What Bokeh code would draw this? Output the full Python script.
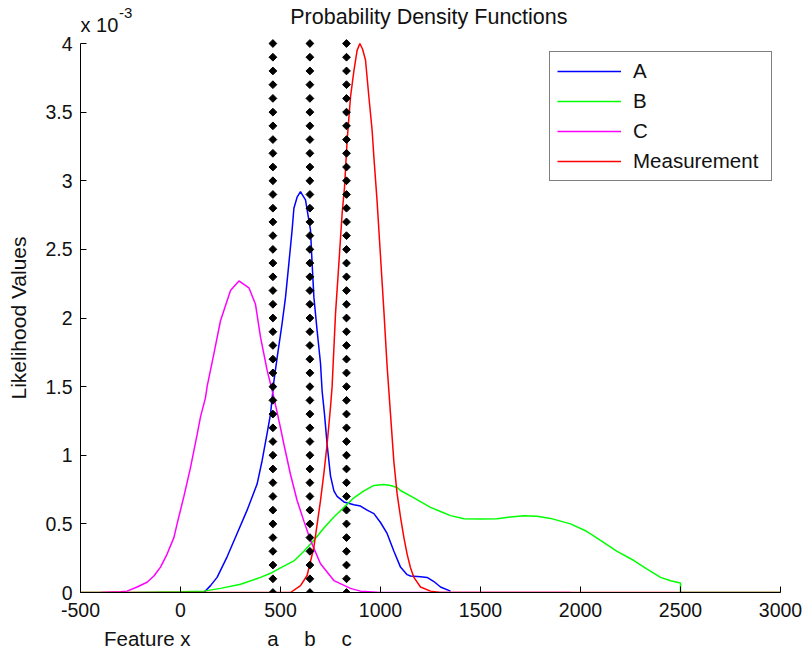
import numpy as np
from bokeh.plotting import figure
from bokeh.models import (Range1d, FixedTicker, CustomJSTickFormatter, Label,
                          LinearAxis)
from bokeh.embed import file_html
from bokeh.resources import INLINE

# Likelihood curves, values in units of 1e-3
a_x = [117, 150, 183, 233, 283, 333, 383, 408, 433, 450, 467, 483, 508, 525, 542, 558,
       567, 583, 600, 608, 625, 650, 658, 667, 683, 700, 708, 720, 733, 750, 767, 783,
       817, 867, 900, 933, 967, 1000, 1033, 1067, 1100, 1133, 1150, 1200, 1233, 1267,
       1300, 1350]
a_y = [0.0, 0.05, 0.11, 0.26, 0.43, 0.60, 0.79, 0.96, 1.16, 1.30, 1.54, 1.71, 1.96, 2.15,
       2.40, 2.64, 2.80, 2.88, 2.92, 2.90, 2.86, 2.64, 2.40, 2.15, 1.91, 1.67, 1.47, 1.30,
       1.08, 0.85, 0.74, 0.70, 0.66, 0.64, 0.63, 0.60, 0.575, 0.51, 0.43, 0.30, 0.185,
       0.13, 0.12, 0.115, 0.11, 0.08, 0.04, 0.01]

b_x = [-500, -250, 0, 117, 200, 300, 400, 450, 500, 567, 617, 667, 717, 767, 817, 867,
       917, 967, 1017, 1050, 1083, 1100, 1167, 1250, 1300, 1350, 1417, 1500, 1583, 1650,
       1717, 1783, 1850, 1950, 2025, 2100, 2183, 2267, 2333, 2400, 2450, 2500, 2500, 3000]
b_y = [0.0, 0.0, 0.005, 0.01, 0.03, 0.06, 0.11, 0.14, 0.18, 0.23, 0.30, 0.38, 0.47, 0.55,
       0.62, 0.69, 0.74, 0.78, 0.787, 0.78, 0.765, 0.743, 0.69, 0.62, 0.59, 0.56, 0.537,
       0.535, 0.537, 0.55, 0.56, 0.556, 0.54, 0.50, 0.45, 0.38, 0.30, 0.233, 0.17, 0.11,
       0.085, 0.07, 0.0, 0.0]

c_x = [-400, -300, -267, -217, -167, -133, -100, -67, -33, -17, 17, 50, 83, 100, 125, 133,
       167, 200, 250, 292, 342, 375, 400, 433, 467, 500, 517, 550, 583, 617, 650, 700, 767,
       850, 900, 1000, 1950]
c_y = [0.0, 0.005, 0.01, 0.04, 0.075, 0.12, 0.185, 0.28, 0.40, 0.50, 0.70, 0.91, 1.15,
       1.28, 1.42, 1.50, 1.74, 1.98, 2.20, 2.27, 2.22, 2.10, 1.86, 1.62, 1.42, 1.20, 1.08,
       0.86, 0.67, 0.52, 0.38, 0.21, 0.087, 0.03, 0.01, 0.0, 0.0]

m_x = [-500, 550, 600, 633, 667, 700, 717, 733, 750, 758, 775, 792, 808, 820, 833, 850,
       867, 883, 897, 910, 925, 942, 958, 967, 983, 1000, 1017, 1033, 1050, 1067, 1083,
       1100, 1117, 1133, 1150, 1167, 1200, 1250, 1300, 3000]
m_y = [0.0, 0.0, 0.05, 0.124, 0.33, 0.67, 0.87, 1.08, 1.35, 1.50, 2.03, 2.40, 2.76, 2.95,
       3.29, 3.61, 3.80, 3.95, 4.0, 3.96, 3.88, 3.61, 3.37, 3.17, 2.85, 2.45, 2.05, 1.65,
       1.30, 0.95, 0.72, 0.55, 0.40, 0.28, 0.18, 0.11, 0.04, 0.01, 0.0, 0.0]

# Decision boundaries on the feature axis
boundary_names = ["a", "b", "c"]
boundary_x = [462, 647, 830]

x_ticks = [-500, 0, 500, 1000, 1500, 2000, 2500, 3000]
y_ticks = [0, 0.5, 1, 1.5, 2, 2.5, 3, 3.5, 4]
feature_label_x = -166
ylabel_y = 2.0

FONT = "Liberation Sans"
TXT = "#111111"

# The frame reaches the top of the page so the heading texts sit inside it;
# the left axis is bounded to the 0..4 value span.
p = figure(width=803, height=655, output_backend="svg", toolbar_location=None,
           x_range=Range1d(-500, 3000), y_range=Range1d(0, 592 / 137.25),
           frame_width=700, frame_height=592,
           min_border_left=80, min_border_right=23, min_border_top=0,
           min_border_bottom=63)
p.background_fill_color = "white"
p.border_fill_color = "white"
p.outline_line_color = None
p.xgrid.visible = False
p.ygrid.visible = False

fmt = CustomJSTickFormatter(code="return tick.toString();")
for ax, ticks, standoff in ((p.xaxis[0], x_ticks, 10), (p.yaxis[0], y_ticks, 8)):
    ax.ticker = FixedTicker(ticks=ticks)
    ax.formatter = fmt
    ax.major_tick_in = 6
    ax.major_tick_out = 0
    ax.minor_tick_line_color = None
    ax.axis_line_color = "black"
    ax.major_tick_line_color = "black"
    ax.major_label_text_font = FONT
    ax.major_label_text_font_size = "19.5px"
    ax.major_label_text_color = TXT
    ax.major_label_standoff = standoff
p.yaxis[0].bounds = (0, 4)

# Vertical axis title, centred on the 0..4 span
ylabel_axis = LinearAxis(
    ticker=FixedTicker(ticks=[ylabel_y]),
    formatter=CustomJSTickFormatter(code="return 'Likelihood Values';"),
    axis_line_color=None, major_tick_line_color=None, minor_tick_line_color=None,
    major_tick_in=0, major_tick_out=0, major_label_standoff=13,
    major_label_orientation="vertical",
    major_label_text_font=FONT, major_label_text_font_size="21px",
    major_label_text_color=TXT)
p.add_layout(ylabel_axis, "left")

# Second row under the x axis: feature name and boundary names
names_axis = LinearAxis(
    ticker=FixedTicker(ticks=[feature_label_x] + boundary_x),
    major_label_overrides={feature_label_x: "Feature x",
                           **{bx: n for n, bx in zip(boundary_names, boundary_x)}},
    axis_line_color=None, major_tick_line_color=None, minor_tick_line_color=None,
    major_tick_in=0, major_tick_out=0, major_label_standoff=7,
    major_label_text_font=FONT, major_label_text_font_size="20.5px",
    major_label_text_color=TXT)
p.add_layout(names_axis, "below")

p.line(a_x, a_y, line_color="#0000ff", line_width=1.5, legend_label="A")
p.line(b_x, b_y, line_color="#00ff00", line_width=1.5, legend_label="B")
p.line(c_x, c_y, line_color="#ff00ff", line_width=1.5, legend_label="C")
p.line(m_x, m_y, line_color="#ff0000", line_width=1.5, legend_label="Measurement")

# Boundary markers, one diamond every 0.1e-3 up the plot
levels = np.linspace(0, 4, 41)
for bx in boundary_x:
    p.scatter([bx] * len(levels), levels, marker="square", angle=np.pi / 4, size=5.5,
              fill_color="black", line_color="black")

lg = p.legend[0]
lg.location = (469, 411)
lg.padding = 7
lg.spacing = 6
lg.glyph_width = 64
lg.glyph_height = 20
lg.label_height = 20
lg.label_width = 131
lg.label_standoff = 12
lg.label_text_font = FONT
lg.label_text_font_size = "20.5px"
lg.label_text_color = TXT
lg.border_line_color = "black"
lg.border_line_width = 1
lg.background_fill_alpha = 1

# Heading texts (1e-3 = 137.25 px, 1 x unit = 0.2 px)
p.add_layout(Label(x=1242, y=4.19, text="Probability Density Functions",
                   text_align="center", text_baseline="alphabetic",
                   text_font=FONT, text_font_size="21.5px", text_color=TXT))
p.add_layout(Label(x=-500, y=4.138, text="x 10", text_align="left",
                   text_baseline="alphabetic", text_font=FONT,
                   text_font_size="20px", text_color=TXT))
p.add_layout(Label(x=-307, y=4.22, text="-3", text_align="left",
                   text_baseline="alphabetic", text_font=FONT,
                   text_font_size="15px", text_color=TXT))

open("out.html", "w").write(file_html(p, INLINE))
